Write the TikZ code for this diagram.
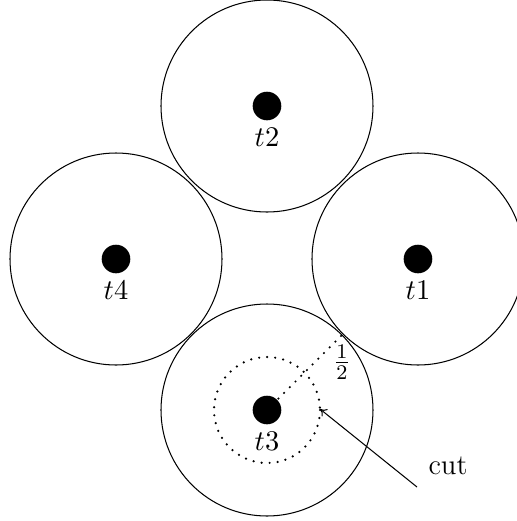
\documentclass[tikz,border=0pt]{standalone}
\usetikzlibrary{arrows.meta}
\begin{document}
\begin{tikzpicture}[x=0.3846pt,y=-0.3846pt,
  font=\fontsize{11}{13}\selectfont,
  dotmark/.style={circle,fill=black,inner sep=0pt,minimum size=11pt},
  region/.style={draw,line width=0.4pt},
  lab/.style={inner sep=0pt,anchor=center},
  dotline/.style={line width=0.95pt,line cap=round,dash pattern=on 0pt off 3.1pt}]
\clip (0,0) rectangle (517,521);
\useasboundingbox (0,0) rectangle (517,521);
% big circles
\draw[region] (267,106) circle[radius=106];
\draw[region] (116,259) circle[radius=106];
\draw[region] (418,259) circle[radius=106];
\draw[region] (267,410) circle[radius=106];
% dots
\node[dotmark] (t2) at (267,106) {};
\node[dotmark] (t4) at (116,259) {};
\node[dotmark] (t1) at (418,259) {};
\node[dotmark] (t3) at (267,410) {};
% labels
\node[lab] (l2) at (267,137) {$t2$};
\node[lab] (l4) at (116,290) {$t4$};
\node[lab] (l1) at (418,290) {$t1$};
\node[lab] (l3) at (267,441) {$t3$};
% inner dotted circle and radius
\draw[dotline] (t3.center) circle[radius=53];
\coordinate (rend) at (342,335);
\coordinate (cuttip) at (320,409);
\draw[dotline] (t3.center) -- (rend);
\node[lab] (half) at (342,362) {$\frac{1}{2}$};
% cut
\node[lab] (cut) at (448,466) {cut};
\coordinate (cutstart) at (417,487);
\draw[-{To[length=2.5pt,width=3.5pt]},line width=0.4pt] (cutstart) -- (cuttip);
\end{tikzpicture}
\end{document}
